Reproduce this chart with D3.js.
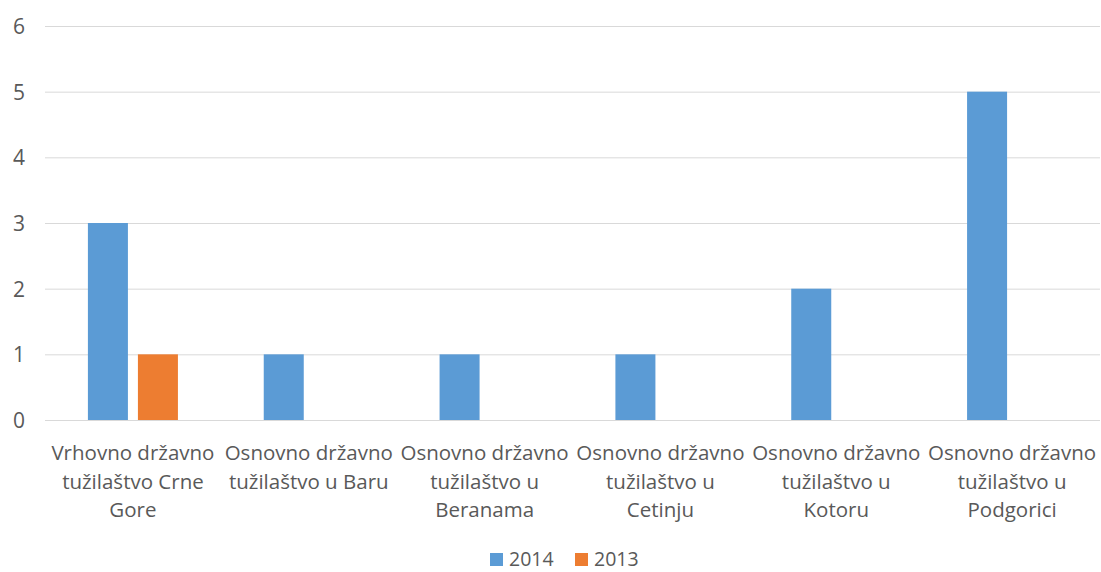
<!DOCTYPE html>
<html><head><meta charset="utf-8">
<script src="https://cdn.jsdelivr.net/npm/d3@7"></script>
<style>body{margin:0;background:#fff}text{font-family:"Open Sans",sans-serif;fill:#595959}</style>
</head><body><svg id="c" width="1101" height="572"></svg>
<script>
const categories = ["Vrhovno državno tužilaštvo Crne Gore","Osnovno državno tužilaštvo u Baru","Osnovno državno tužilaštvo u Beranama","Osnovno državno tužilaštvo u Cetinju","Osnovno državno tužilaštvo u Kotoru","Osnovno državno tužilaštvo u Podgorici"];
const seriesNames = ["2014","2013"];
const values2014 = [3,1,1,1,2,5];
const values2013 = [1,0,0,0,0,0];
const yTicks = [0,1,2,3,4,5,6];
const colors = ["#5B9BD5","#ED7D31"];

(function(){
const svg = d3.select("#c");
const mLeft = 45, mRight = 1100, mTop = 26, mBottom = 420;
const x0 = d3.scaleBand().domain(categories).range([mLeft, mRight]).padding(0);
const x1 = d3.scaleBand().domain(seriesNames).range([0, x0.bandwidth()]).paddingInner(0.2).paddingOuter(0.858);
const y = d3.scaleLinear().domain([0,6]).range([mBottom, mTop]);

const yAxis = d3.axisLeft(y).tickValues(yTicks).tickFormat(d3.format("d")).tickSize(-(mRight-mLeft));
const gy = svg.append("g").attr("transform",`translate(${mLeft},0)`).call(yAxis);
gy.select(".domain").remove();
gy.selectAll(".tick line").attr("stroke","#D9D9D9").attr("stroke-width",1);
gy.selectAll(".tick text").attr("font-size","21px").attr("fill","#595959").attr("x",-20).attr("dy","0.36em");

const data = categories.map((c,i)=>({c, vals:[values2014[i], values2013[i]]}));
const g = svg.append("g");
data.forEach(d=>{
  d.vals.forEach((v,j)=>{
    if(v<=0) return;
    g.append("rect").attr("x", x0(d.c)+x1(seriesNames[j])).attr("width", x1.bandwidth())
      .attr("y", y(v)).attr("height", y(0)-y(v)).attr("fill", colors[j]);
  });
});

const xAxis = d3.axisBottom(x0).tickSize(0).tickPadding(0);
const gx = svg.append("g").attr("transform",`translate(0,${mBottom})`).call(xAxis);
gx.select(".domain").remove();
gx.selectAll(".tick text").each(function(d){
  const t = d3.select(this);
  const words = d.split(" ");
  t.text(null).attr("font-size","20.5px").attr("fill","#595959").attr("y",0).attr("dy",null);
  let lines=[], line=[];
  let ts = t.append("tspan");
  words.forEach(w=>{
    line.push(w); ts.text(line.join(" "));
    if(ts.node().getComputedTextLength()>x0.bandwidth()-2 && line.length>1){
      line.pop(); lines.push(line.join(" ")); line=[w]; ts.text(w);
    }
  });
  lines.push(line.join(" "));
  t.text(null);
  lines.forEach((l,i)=>t.append("tspan").attr("x",0).attr("y",40+i*28.5).text(l));
});

const lg = svg.append("g");
const lx = [490, 575];
seriesNames.forEach((s,i)=>{
  lg.append("rect").attr("x",lx[i]).attr("y",553).attr("width",13).attr("height",13).attr("fill",colors[i]);
  lg.append("text").attr("x",lx[i]+19).attr("y",565.5).attr("font-size","19.5px").attr("fill","#595959").text(s);
});
})();
</script></body></html>
